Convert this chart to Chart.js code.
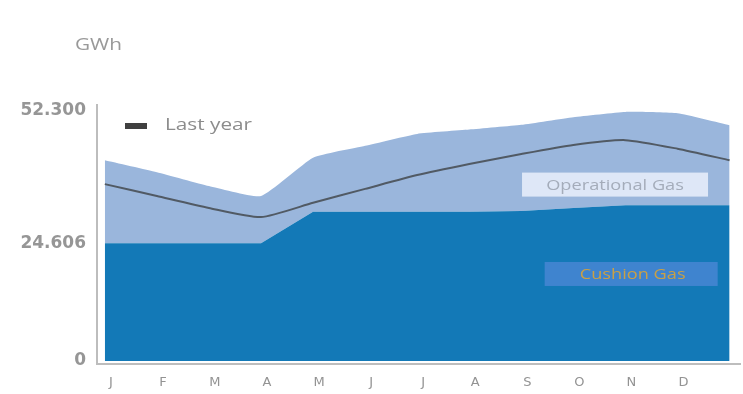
<!DOCTYPE html>
<html>
<head>
<meta charset="utf-8">
<script src="https://cdn.jsdelivr.net/npm/chart.js@4.4.1/dist/chart.umd.min.js"></script>
<style>
  html, body { margin: 0; padding: 0; background: #fff; }
  #wrap { width: 743px; height: 394px; }
</style>
</head>
<body>
<div id="wrap"><canvas id="storage" width="743" height="394"></canvas></div>
<script>
(function () {
  'use strict';

  // month labels shown on the x axis; points sit at month starts, the last one closes the year
  var months = ['J', 'F', 'M', 'A', 'M', 'J', 'J', 'A', 'S', 'O', 'N', 'D'];
  var monthIndex = [0, 1, 2, 3, 4, 5, 6, 7, 8, 9, 10, 11, 12];

  // GWh
  var cushionGas = [24606, 24606, 24606, 24606, 31200, 31200, 31200, 31200, 31400, 32000, 32600, 32600, 32600];
  var operationalGas = [17400, 14900, 12000, 9900, 11300, 13800, 16300, 17200, 18000, 19000, 19500, 19200, 16700];
  var lastYear = [37000, 34500, 32000, 30100, 33100, 36000, 38900, 41200, 43300, 45200, 46200, 44400, 42000];

  var yTicks = [0, 24606, 52300];

  var cushionColor = '#1379b7';
  var operationalColor = '#9ab6dc';
  var lineColor = '#515a64';
  var axisColor = '#bdbdbd';
  var textGrey = '#8c8c8c';

  function fmtGWh(v) {
    // thousands with a dot, as in 52.300
    return String(v).replace(/\B(?=(\d{3})+(?!\d))/g, '.');
  }

  function pts(values) {
    return values.map(function (v, i) { return { x: monthIndex[i], y: v }; });
  }

  // text drawn a little wider than the font's own proportions
  function wideText(ctx, text, x, y, sx) {
    ctx.save();
    ctx.translate(x, y);
    ctx.scale(sx, 1);
    ctx.fillText(text, 0, 0);
    ctx.restore();
  }

  // title, legend and the two series captions
  var decorations = {
    id: 'decorations',
    afterDraw: function (chart) {
      var ctx = chart.ctx;
      var area = chart.chartArea;
      var xs = chart.scales.x;
      var ys = chart.scales.y;
      ctx.save();

      ctx.fillStyle = '#999999';
      ctx.font = '16px "Open Sans", sans-serif';
      ctx.textBaseline = 'middle';
      ctx.textAlign = 'left';
      wideText(ctx, 'GWh', 75, 45, 1.3);

      // legend
      ctx.fillStyle = '#404040';
      ctx.fillRect(area.left + 28, area.top + 18, 22, 6);
      ctx.fillStyle = textGrey;
      ctx.font = '17px "Open Sans", sans-serif';
      wideText(ctx, 'Last year', area.left + 68, area.top + 20, 1.22);

      // Operational Gas caption
      var cx = xs.getPixelForValue(9.8);
      var cy = ys.getPixelForValue(36900);
      ctx.fillStyle = 'rgba(228, 236, 248, 0.92)';
      ctx.fillRect(cx - 93, cy - 12, 186, 24);
      ctx.fillStyle = '#a4acba';
      ctx.font = '14px "Open Sans", sans-serif';
      ctx.textAlign = 'center';
      wideText(ctx, 'Operational Gas', cx, cy + 1, 1.3);

      // Cushion Gas caption
      cx = xs.getPixelForValue(10.1);
      cy = ys.getPixelForValue(18200);
      ctx.fillStyle = '#3f84cf';
      ctx.fillRect(cx - 86, cy - 12, 173, 24);
      ctx.fillStyle = '#c9a046';
      wideText(ctx, 'Cushion Gas', cx + 2, cy + 1, 1.3);

      ctx.restore();
    }
  };

  new Chart(document.getElementById('storage').getContext('2d'), {
    type: 'line',
    data: {
      datasets: [
        {
          label: 'Cushion Gas',
          data: pts(cushionGas),
          stack: 'gas',
          borderWidth: 0,
          backgroundColor: cushionColor,
          fill: 'origin',
          tension: 0,
          pointRadius: 0,
          order: 1
        },
        {
          label: 'Operational Gas',
          data: pts(operationalGas),
          stack: 'gas',
          borderWidth: 0,
          backgroundColor: operationalColor,
          fill: '-1',
          tension: 0.15,
          pointRadius: 0,
          order: 2
        },
        {
          label: 'Last year',
          data: pts(lastYear),
          stack: 'ly',
          borderColor: lineColor,
          borderWidth: 2,
          fill: false,
          tension: 0.2,
          pointRadius: 0,
          order: 0
        }
      ]
    },
    options: {
      responsive: false,
      animation: false,
      layout: { padding: { top: 105, right: 3, bottom: 0, left: 0 } },
      plugins: {
        legend: { display: false },
        tooltip: { enabled: false }
      },
      scales: {
        x: {
          type: 'linear',
          min: -0.15,
          max: 12.2,
          grid: { display: false, drawTicks: false },
          border: { color: axisColor, width: 2 },
          afterBuildTicks: function (scale) {
            scale.ticks = months.map(function (m, i) { return { value: i }; });
          },
          afterFit: function (scale) { scale.height = 30; },
          ticks: {
            color: '#939393',
            font: { size: 13, family: '"DejaVu Sans", sans-serif' },
            padding: 11,
            labelOffset: 6,
            autoSkip: false,
            maxRotation: 0,
            callback: function (v) { return months[v]; }
          }
        },
        y: {
          stacked: true,
          min: -630,
          max: 53550,
          grid: { display: false, drawTicks: false },
          border: { color: axisColor, width: 2 },
          afterBuildTicks: function (scale) {
            scale.ticks = yTicks.map(function (v) { return { value: v }; });
          },
          afterFit: function (scale) { scale.width = 97; },
          ticks: {
            color: '#969696',
            font: { size: 17, weight: 'bold', family: '"DejaVu Sans", sans-serif' },
            padding: 11,
            callback: function (v) { return fmtGWh(v); }
          }
        }
      }
    },
    plugins: [decorations]
  });
})();
</script>
</body>
</html>
